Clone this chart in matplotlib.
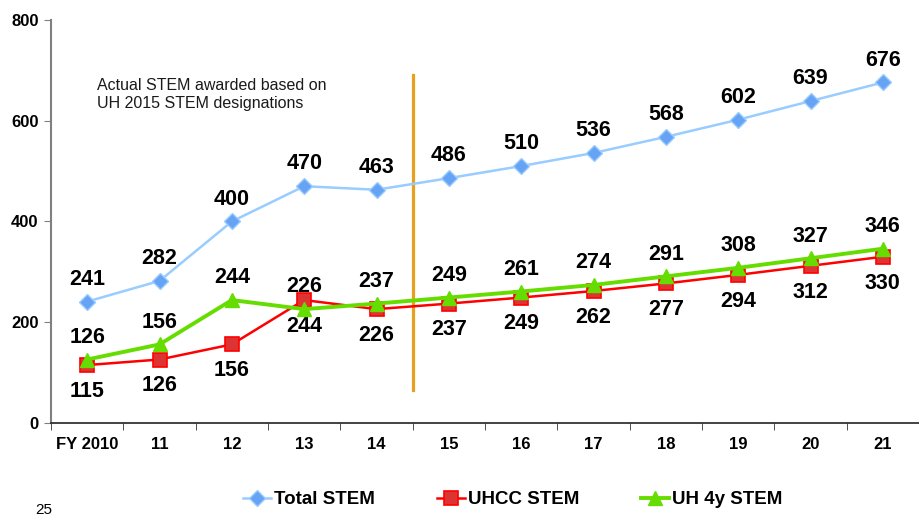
import numpy as np
import matplotlib.pyplot as plt

plt.rcParams['font.family'] = ['Liberation Sans', 'DejaVu Sans']

years = ["FY 2010", "11", "12", "13", "14", "15", "16", "17", "18", "19", "20", "21"]
total_stem = [241, 282, 400, 470, 463, 486, 510, 536, 568, 602, 639, 676]
uhcc_stem = [115, 126, 156, 244, 226, 237, 249, 262, 277, 294, 312, 330]
uh4y_stem = [126, 156, 244, 226, 237, 249, 261, 274, 291, 308, 327, 346]

x = np.arange(len(years))

fig = plt.figure(figsize=(9.19, 5.19), dpi=100)
ax = fig.add_axes([0.0555, 0.185, 0.9445, 0.7765])

# total
ax.plot(x, total_stem, color="#99CCFF", lw=1.8, marker="D", ms=8,
        mfc="#66A3F5", mec="#99CCFF", mew=1, label="Total STEM", zorder=3)
# uhcc
ax.plot(x, uhcc_stem, color="#FF0000", lw=1.8, marker="s", ms=10,
        mfc="#DD3333", mec="#FF0000", mew=1.2, label="UHCC STEM", zorder=4)
# uh 4y
ax.plot(x, uh4y_stem, color="#66DD00", lw=2.8, marker="^", ms=10,
        mfc="#66DD00", mec="#66DD00", label="UH 4y STEM", zorder=5)

lblfont = dict(fontsize=15.5, fontweight="bold", ha="center", va="center")
for i in range(len(x)):
    ax.annotate(str(total_stem[i]), (x[i], total_stem[i]), xytext=(0, 16),
                textcoords="offset points", **lblfont)
    ax.annotate(str(uh4y_stem[i]), (x[i], uh4y_stem[i]), xytext=(0, 16),
                textcoords="offset points", **lblfont)
    ax.annotate(str(uhcc_stem[i]), (x[i], uhcc_stem[i]), xytext=(0, -19),
                textcoords="offset points", **lblfont)

# divider between actual and projected
ax.plot([4.5, 4.5], [65, 690], color="#E6A11E", lw=2.3, zorder=2)
ax.text(0.135, 652, "Actual STEM awarded based on\nUH 2015 STEM designations",
        fontsize=11.5, color="#1a1a1a", ha="left", va="center", linespacing=1.25)

ax.set_xlim(-0.5, 11.5)
ax.set_ylim(0, 800)
ax.set_yticks([0, 200, 400, 600, 800])
ax.set_xticks(x)
ax.set_xticklabels(years)
ax.set_xticks(np.arange(-0.5, 12, 1), minor=True)
ax.tick_params(axis="x", which="major", length=0, pad=10, labelsize=12)
ax.tick_params(axis="x", which="minor", length=5, color="#333333")
ax.tick_params(axis="y", length=5, labelsize=12, color="#808080", pad=4)
for lab in ax.get_xticklabels() + ax.get_yticklabels():
    lab.set_fontweight("bold")

ax.spines["top"].set_visible(False)
ax.spines["right"].set_visible(False)
ax.spines["left"].set_color("#808080")
ax.spines["left"].set_linewidth(1.5)
ax.spines["bottom"].set_color("#222222")
ax.spines["bottom"].set_linewidth(1.2)

fig.legend(loc="center", bbox_to_anchor=(0.558, 0.037), ncol=3, frameon=False,
           prop=dict(size=13.5, weight="bold"), handlelength=1.5,
           handletextpad=0.15, columnspacing=3.3)

fig.text(0.038, 0.017, "25", fontsize=11, ha="left", va="center")

fig.savefig("out.png", dpi=100)
